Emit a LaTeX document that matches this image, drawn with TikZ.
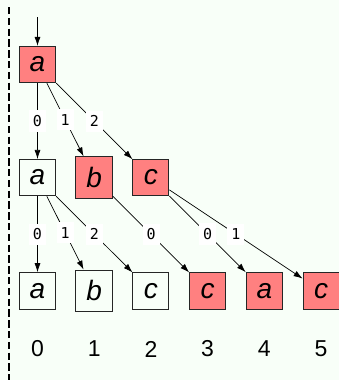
\documentclass[tikz,border=0pt]{standalone}
\usepackage{fontspec}
\setsansfont{Liberation Sans}
\newfontfamily\monofont{DejaVu Sans Mono}
\usetikzlibrary{arrows.meta}

\definecolor{bgtint}{RGB}{248,255,248}
\definecolor{hitred}{RGB}{255,128,128}

\tikzset{
  cell/.style={draw=black!85,line width=0.9pt,minimum size=36pt,inner sep=10.5pt,
    font=\sffamily\itshape\fontsize{28}{28}\selectfont},
  hit/.style={cell,fill=hitred},
  lbl/.style={fill=white,inner xsep=4pt,inner ysep=5pt,font=\monofont\fontsize{15}{15}\selectfont},
  idx/.style={font=\sffamily\fontsize{23}{23}\selectfont},
  edge/.style={->,line width=0.7pt},
  >={Latex[length=9pt,width=6pt]}
}

\begin{document}
\begin{tikzpicture}[x=1pt,y=-1pt]
  \fill[bgtint] (0,0) rectangle (339,380);
  \useasboundingbox (0,0) rectangle (339,380);
  \draw[line width=1.9pt,dash pattern=on 7.3pt off 3.5pt] (9,7) -- (9,380);

  % root
  \coordinate (start) at (37.5,17);
  \node[hit] (root) at (37.5,64.5) {a};

  % second row
  \node[cell] (q0) at (37.5,177.6) {a};
  \node[hit] (q1) at (94.2,177.6) {b};
  \node[hit] (q2) at (150.9,177.6) {c};

  % third row
  \node[cell] (p0) at (37.5,290.8) {a};
  \node[cell] (p1) at (94.2,290.8) {b};
  \node[cell] (p2) at (150.9,290.8) {c};
  \node[hit] (p3) at (207.6,290.8) {c};
  \node[hit] (p4) at (264.3,290.8) {a};
  \node[hit] (p5) at (321,290.8) {c};

  % positions
  \foreach \i in {0,...,5}
    \node[idx] (i\i) at (37.5+56.7*\i,349) {\i};

  \draw[edge] (start) -- (root);
  \draw[edge] (root) -- node[lbl] {0} (q0);
  \draw[edge] (root) -- node[lbl] {1} (q1);
  \draw[edge] (root) -- node[lbl] {2} (q2);
  \draw[edge] (q0) -- node[lbl] {0} (p0);
  \draw[edge] (q0) -- node[lbl] {1} (p1);
  \draw[edge] (q0) -- node[lbl] {2} (p2);
  \draw[edge] (q1) -- node[lbl] {0} (p3);
  \draw[edge] (q2) -- node[lbl] {0} (p4);
  \draw[edge] (q2) -- node[lbl] {1} (p5);
\end{tikzpicture}
\end{document}
